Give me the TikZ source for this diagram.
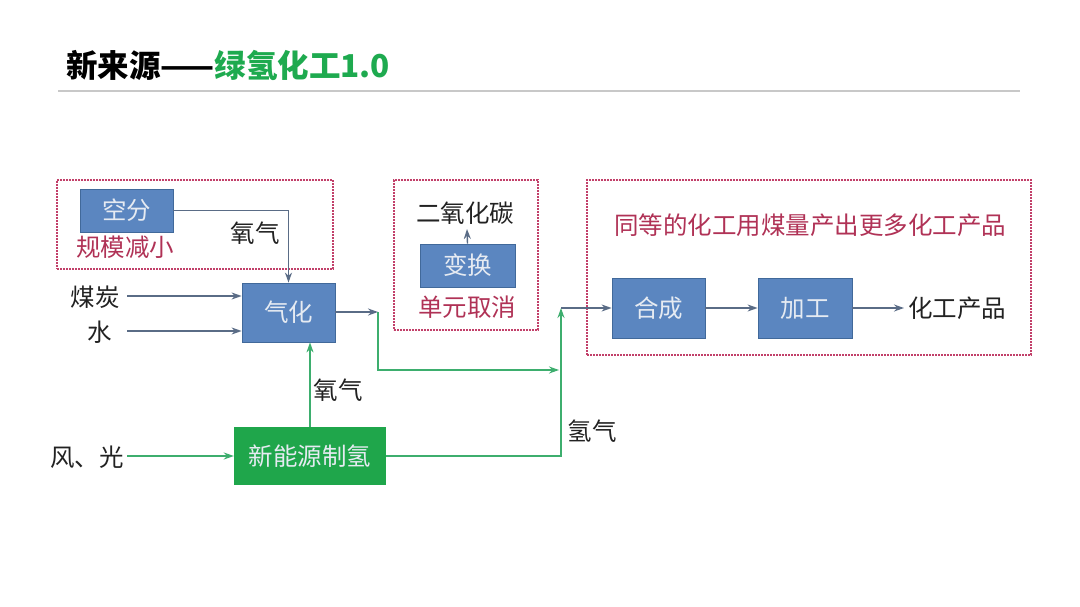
\documentclass[tikz,border=0pt]{standalone}
\usepackage{fontspec}
\newfontfamily\cjk{Noto Sans CJK SC}
\usetikzlibrary{arrows.meta}
\definecolor{boxblue}{HTML}{5B86C0}
\definecolor{boxblueedge}{HTML}{41699A}
\definecolor{boxtext}{HTML}{E6EBF2}
\definecolor{gbox}{HTML}{1FA64B}
\definecolor{gline}{HTML}{3DAE6E}
\definecolor{arrowgray}{HTML}{5A6C86}
\definecolor{dashred}{HTML}{C2406A}
\definecolor{redtext}{HTML}{B03256}
\definecolor{titlegreen}{HTML}{1EAA4F}
\definecolor{txt}{HTML}{222222}
\definecolor{rule}{HTML}{C8C8C8}
\begin{document}
\begin{tikzpicture}[x=1pt,y=-1pt,
  base/.style={font=\cjk\fontsize{24.5}{27}\selectfont},
  proc/.style={base,draw=boxblueedge,fill=boxblue,text=boxtext,line width=0.8pt,inner sep=0pt},
  gproc/.style={base,fill=gbox,text=boxtext,inner sep=0pt},
  lbl/.style={base,text=txt,inner sep=4pt},
  rlbl/.style={base,text=redtext,inner sep=4pt},
  group/.style={draw=dashred,line width=1.3pt,dash pattern=on 2pt off 1pt,inner sep=0pt},
  garrow/.style={draw=arrowgray,line width=1.4pt,-{Stealth[length=10pt,width=7pt]}},
  gline/.style={draw=gline,line width=1.8pt},
  grarrow/.style={gline,-{Stealth[length=10pt,width=7pt]}}
]
\useasboundingbox (0,0) rectangle (1080,607);
\fill[white] (0,0) rectangle (1080,607);

% title
\node[anchor=west,inner sep=0pt,font=\cjk\bfseries\fontsize{31.5}{34}\selectfont,text=black] (title) at (66,65)
  {新来源——\textcolor{titlegreen}{绿氢化工1.0}};
\coordinate (ruleL) at (58,91);
\coordinate (ruleR) at (1020,91);
\draw[rule,line width=1.5pt] (ruleL) -- (ruleR);

% dashed groups
\node[group,minimum width=276pt,minimum height=89pt] (g1) at (195,224.5) {};
\node[group,minimum width=144pt,minimum height=150pt] (g2) at (466,255) {};
\node[group,minimum width=444pt,minimum height=175pt] (g3) at (809,267.5) {};

% process boxes
\node[proc,minimum width=93pt,minimum height=43pt] (kongfen) at (126.5,210.5) {空分};
\node[proc,minimum width=93pt,minimum height=59pt] (qihua) at (288.5,312.5) {气化};
\node[proc,minimum width=95pt,minimum height=43pt] (bianhuan) at (467.5,265.5) {变换};
\node[proc,minimum width=93pt,minimum height=60pt] (hecheng) at (658.5,308) {合成};
\node[proc,minimum width=94pt,minimum height=60pt] (jiagong) at (805,308) {加工};
\node[gproc,minimum width=152pt,minimum height=58pt] (xinneng) at (310,456) {新能源制氢};

% labels
\node[rlbl] (guimo) at (125,247) {规模减小};
\node[lbl] (o2top) at (255,233) {氧气};
\node[lbl] (coal) at (95,297) {煤炭};
\node[lbl] (water) at (100,332) {水};
\node[lbl] (co2) at (465,213) {二氧化碳};
\node[rlbl] (danyuan) at (467,307) {单元取消};
\node[rlbl] (tongdeng) at (810,225) {同等的化工用煤量产出更多化工产品};
\node[lbl] (product) at (957,308) {化工产品};
\node[lbl] (o2bot) at (338,390) {氧气};
\node[lbl] (wind) at (87,457) {风、光};
\node[lbl] (h2) at (592,431) {氢气};

% coordinates
\coordinate (coalin) at (127,296);
\coordinate (waterin) at (127,331);
\coordinate (windin) at (127,456);
\coordinate (bend1) at (378,312);
\coordinate (merge1) at (559,370);
\coordinate (junc) at (561,308);
\coordinate (co2in) at (467,229);
\coordinate (prodin) at (904,308);

% connectors
\draw[garrow] (kongfen.east) -| (qihua.north);
\draw[garrow] (coalin) -- (qihua.west |- coalin);
\draw[garrow] (waterin) -- (qihua.west |- waterin);
\draw[garrow] (qihua.east |- bend1) -- (bend1);
\draw[grarrow] (bend1) |- (merge1);
\draw[grarrow] (windin) -- (xinneng.west);
\draw[grarrow] (xinneng.north) -- (qihua.south -| xinneng.north);
\draw[grarrow] (xinneng.east) -| (junc);
\draw[garrow] (junc) -- (hecheng.west);
\draw[garrow] (bianhuan.north) -- (co2in);
\draw[garrow] (hecheng.east) -- (jiagong.west);
\draw[garrow] (jiagong.east) -- (prodin);
\end{tikzpicture}
\end{document}
